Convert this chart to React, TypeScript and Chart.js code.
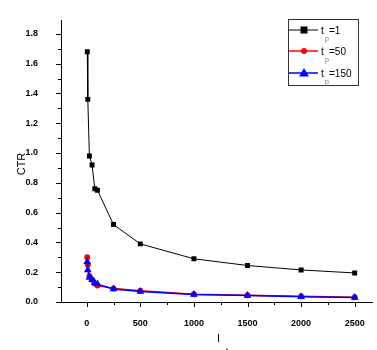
import React, { useEffect, useRef } from "react";
import { Chart, registerables } from "chart.js";

Chart.register(...registerables);

// ---- data ----
const xValues = [5, 10, 25, 50, 75, 100, 250, 500, 1000, 1500, 2000, 2500];
const ctrTp1 = [1.68, 1.36, 0.98, 0.92, 0.76, 0.75, 0.52, 0.39, 0.29, 0.245, 0.215, 0.195];
const ctrTp50 = [0.3, 0.25, 0.175, 0.15, 0.125, 0.11, 0.09, 0.075, 0.052, 0.045, 0.038, 0.032];
const ctrTp150 = [0.27, 0.215, 0.165, 0.15, 0.13, 0.12, 0.088, 0.07, 0.05, 0.044, 0.036, 0.03];
const seriesValues = ["1", "50", "150"];
const xMajorTicks = [0, 500, 1000, 1500, 2000, 2500];
const xMinorTicks = [250, 750, 1250, 1750, 2250];
const yMajorTicks = [0, 0.2, 0.4, 0.6, 0.8, 1.0, 1.2, 1.4, 1.6, 1.8];
const yMinorTicks = [0.1, 0.3, 0.5, 0.7, 0.9, 1.1, 1.3, 1.5, 1.7];
const xTitle = "I";
const xTitleSub = "t";
const yTitle = "CTR";
const legendPrefix = "t";
const legendSub = "p";

const FONT = "'Liberation Sans', Arial, sans-serif";
const colors = ["#000000", "#ff0000", "#0000ff"];
const styles = ["rect", "circle", "triangle"];
const radii = [3.5, 3, 4.5];

const decorPlugin = {
  id: "decor",
  afterDraw(chart: any) {
    const ctx = chart.ctx as CanvasRenderingContext2D;
    const xs = chart.scales.x;
    const ys = chart.scales.y;
    const area = chart.chartArea;
    ctx.save();
    ctx.strokeStyle = "#000";
    ctx.lineWidth = 1;
    const drawX = (vals: number[], len: number) => {
      vals.forEach((v) => {
        const px = Math.round(xs.getPixelForValue(v)) + 0.5;
        ctx.beginPath();
        ctx.moveTo(px, area.bottom);
        ctx.lineTo(px, area.bottom + len);
        ctx.stroke();
      });
    };
    const drawY = (vals: number[], len: number) => {
      vals.forEach((v) => {
        const py = Math.round(ys.getPixelForValue(v)) + 0.5;
        ctx.beginPath();
        ctx.moveTo(area.left, py);
        ctx.lineTo(area.left - len, py);
        ctx.stroke();
      });
    };
    drawX(xMajorTicks, 5);
    drawX(xMinorTicks, 3);
    drawY(yMajorTicks, 5);
    drawY(yMinorTicks, 3);

    // axis titles
    ctx.fillStyle = "#000";
    ctx.font = `11px ${FONT}`;
    ctx.textAlign = "left";
    ctx.textBaseline = "alphabetic";
    ctx.fillText(xTitle, 217, 342);
    ctx.font = `8px ${FONT}`;
    ctx.fillText(xTitleSub, 226, 353);

    ctx.save();
    ctx.translate(22, 164);
    ctx.rotate(-Math.PI / 2);
    ctx.font = `11px ${FONT}`;
    ctx.textAlign = "center";
    ctx.textBaseline = "middle";
    ctx.fillText(yTitle, 0, 0);
    ctx.restore();

    // legend
    const bx = 288.5, by = 19.5, bw = 70, bh = 66;
    ctx.strokeStyle = "#333";
    ctx.lineWidth = 1;
    ctx.strokeRect(bx, by, bw, bh);
    const rowsY = [30, 51, 73];
    chart.data.datasets.forEach((ds: any, i: number) => {
      const y = rowsY[i];
      ctx.strokeStyle = colors[i];
      ctx.lineWidth = i === 0 ? 1 : 1.5;
      ctx.beginPath();
      ctx.moveTo(289, y);
      ctx.lineTo(318, y);
      ctx.stroke();
      ctx.fillStyle = colors[i];
      const mx = 304;
      if (i === 0) {
        ctx.fillRect(mx - 3.5, y - 3.5, 7, 7);
      } else if (i === 1) {
        ctx.beginPath();
        ctx.arc(mx, y, 3, 0, Math.PI * 2);
        ctx.fill();
      } else {
        ctx.beginPath();
        ctx.moveTo(mx, y - 5);
        ctx.lineTo(mx + 5, y + 3.5);
        ctx.lineTo(mx - 5, y + 3.5);
        ctx.closePath();
        ctx.fill();
      }
      ctx.fillStyle = "#000";
      ctx.textAlign = "left";
      ctx.textBaseline = "middle";
      ctx.font = `10px ${FONT}`;
      ctx.fillText(legendPrefix, 321, y + 1);
      ctx.fillStyle = "#777";
      ctx.font = `7px ${FONT}`;
      ctx.fillText(legendSub, 325, y + 9);
      ctx.fillStyle = "#000";
      ctx.font = `10px ${FONT}`;
      ctx.fillText("=" + seriesValues[i], 329, y + 1);
    });
    ctx.restore();
  },
};

export default function App() {
  const ref = useRef<HTMLCanvasElement | null>(null);
  useEffect(() => {
    if (!ref.current) return;
    const mk = (vals: number[]) => xValues.map((x, i) => ({ x, y: vals[i] }));
    const all = [ctrTp1, ctrTp50, ctrTp150];
    const chart = new Chart(ref.current, {
      type: "line",
      data: {
        datasets: all.map((vals, i) => ({
          label: legendPrefix + legendSub + "=" + seriesValues[i],
          data: mk(vals),
          borderColor: colors[i],
          backgroundColor: colors[i],
          borderWidth: i === 0 ? 1 : 1.5,
          pointStyle: styles[i] as any,
          pointRadius: radii[i],
          pointBorderWidth: 0,
          tension: 0,
          order: 2 - i,
        })),
      },
      options: {
        animation: false,
        responsive: false,
        layout: { padding: { top: 10, right: 1, left: 0, bottom: 0 } },
        plugins: { legend: { display: false }, tooltip: { enabled: false } },
        scales: {
          x: {
            type: "linear",
            min: -240,
            max: 2666,
            grid: { display: false },
            border: { display: true, color: "#000", width: 1 },
            afterBuildTicks: (s: any) => {
              s.ticks = xMajorTicks.map((v) => ({ value: v }));
            },
            afterFit: (s: any) => {
              s.height = 48;
            },
            ticks: {
              color: "#000",
              font: { family: FONT, size: 9, weight: "bold" },
              padding: 8,
              maxRotation: 0,
              autoSkip: false,
              callback: (v: any) => String(v),
            },
          },
          y: {
            type: "linear",
            min: 0,
            max: 1.89,
            grid: { display: false },
            border: { display: true, color: "#000", width: 1 },
            afterBuildTicks: (s: any) => {
              s.ticks = yMajorTicks.map((v) => ({ value: v }));
            },
            afterFit: (s: any) => {
              s.width = 61;
            },
            ticks: {
              color: "#000",
              font: { family: FONT, size: 9, weight: "bold" },
              padding: 15,
              autoSkip: false,
              callback: (v: any) => Number(v).toFixed(1),
            },
          },
        },
      },
      plugins: [decorPlugin],
    });
    return () => chart.destroy();
  }, []);
  return (
    <div style={{ position: "absolute", left: 0, top: 0, width: 377, height: 350, background: "#fff" }}>
      <canvas ref={ref} width={377} height={350} style={{ display: "block" }} />
    </div>
  );
}
